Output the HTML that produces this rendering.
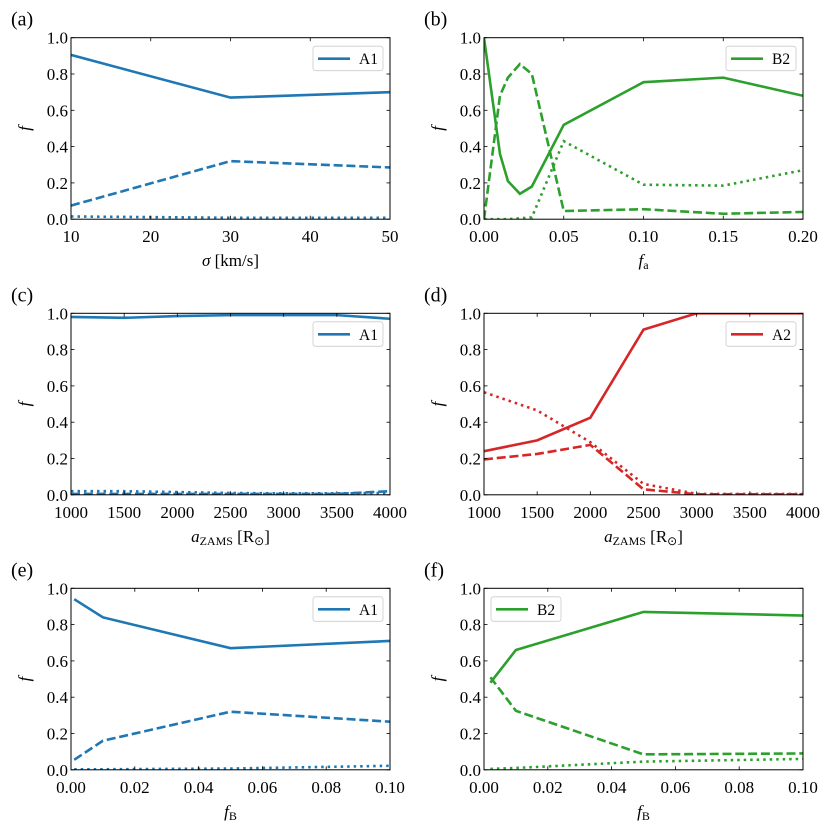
<!DOCTYPE html>
<html><head><meta charset="utf-8"><style>
body{margin:0;background:#fff}
svg text{font-family:"Liberation Serif",serif;fill:#000}
</style></head><body>
<svg id="fig" width="831" height="828" viewBox="0 0 831 828" xmlns="http://www.w3.org/2000/svg"></svg>
<script>
const blue='#1f77b4',green='#2ca02c',red='#d62728';
// panel a
const aX=[10,30,50];
const aSolid=[0.905,0.67,0.70];
const aDash=[0.075,0.32,0.285];
const aDot=[0.015,0.008,0.008];
const aTicks=[10,20,30,40,50];
// panel b
const bX=[0,0.01,0.015,0.0225,0.03,0.05,0.1,0.15,0.2];
const bSolid=[1.0,0.36,0.21,0.14,0.18,0.52,0.755,0.78,0.68];
const bDash=[0.0,0.68,0.78,0.855,0.80,0.045,0.055,0.03,0.04];
const bDot=[0.0,0.0,0.0,0.005,0.01,0.43,0.19,0.185,0.27];
const bTicks=[0,0.05,0.1,0.15,0.2];
const bTickLabels=['0.00','0.05','0.10','0.15','0.20'];
// panel c
const cX=[1000,1500,2000,2500,3000,3500,4000];
const cSolid=[0.98,0.975,0.985,0.99,0.99,0.99,0.97];
const cDash=[0.005,0.005,0.005,0.005,0.005,0.005,0.02];
const cDot=[0.02,0.02,0.015,0.01,0.008,0.008,0.01];
const cTicks=[1000,1500,2000,2500,3000,3500,4000];
// panel d
const dX=[1000,1500,2000,2500,3000,3500,4000];
const dSolid=[0.24,0.30,0.425,0.91,1.0,1.0,1.0];
const dDash=[0.195,0.225,0.275,0.03,0.003,0.003,0.003];
const dDot=[0.565,0.465,0.29,0.06,0.005,0.005,0.005];
// panel e
const eX=[0.001,0.01,0.05,0.1];
const eSolid=[0.94,0.84,0.67,0.71];
const eDash=[0.055,0.16,0.32,0.265];
const eDot=[0.003,0.003,0.007,0.022];
// panel f
const fX=[0.002,0.01,0.05,0.1];
const fSolid=[0.48,0.66,0.87,0.85];
const fDash=[0.51,0.325,0.085,0.09];
const fDot=[0.005,0.01,0.045,0.06];
const efTicks=[0,0.02,0.04,0.06,0.08,0.1];
const efTickLabels=['0.00','0.02','0.04','0.06','0.08','0.10'];
const yTicks=[0,0.2,0.4,0.6,0.8,1.0];
const yTickLabels=['0.0','0.2','0.4','0.6','0.8','1.0'];

const NS='http://www.w3.org/2000/svg';
const svg=document.getElementById('fig');
function mk(tag,attrs,parent){const e=document.createElementNS(NS,tag);for(const k in attrs)e.setAttribute(k,attrs[k]);(parent||svg).appendChild(e);return e;}

function panel(o){
  const g=mk('g',{});
  
  
  const L=o.x0,R=o.x1,T=o.y0,B=o.y0+181.5;
  const sx=v=>L+(v-o.xmin)/(o.xmax-o.xmin)*(R-L);
  const sy=v=>B-(v-0)/(1-0)*(B-T);
  const clip=mk('clipPath',{id:'clip'+o.id},g);
  mk('rect',{x:L,y:T,width:R-L,height:B-T},clip);
  const series=[[o.solid,'none','solid'],[o.dash,'9,3.8','dashed'],[o.dot,'2.5,4','dotted']];
  series.forEach(s=>{
    const pts=o.xs.map((x,i)=>sx(x).toFixed(2)+','+sy(s[0][i]).toFixed(2)).join(' ');
    const p=mk('polyline',{points:pts,fill:'none',stroke:o.color,'stroke-width':2.6,'stroke-dasharray':s[1],'clip-path':'url(#clip'+o.id+')'},g);
    
    
  });
  const frame=mk('rect',{x:L,y:T,width:R-L,height:B-T,fill:'none',stroke:'#000','stroke-width':1},g);
  
  
  o.xt.forEach((v,i)=>{
    const x=sx(v);
    mk('line',{x1:x,y1:B,x2:x,y2:B-3.5,stroke:'#000','stroke-width':0.8},g);
    mk('line',{x1:x,y1:T,x2:x,y2:T+3.5,stroke:'#000','stroke-width':0.8},g);
    const t=mk('text',{x:x,y:B+23,'text-anchor':'middle','font-size':17},g);
    t.textContent=o.xtl?o.xtl[i]:String(v);
    
    
  });
  yTicks.forEach((v,i)=>{
    const y=sy(v);
    mk('line',{x1:L,y1:y,x2:L+3.5,y2:y,stroke:'#000','stroke-width':0.8},g);
    mk('line',{x1:R,y1:y,x2:R-3.5,y2:y,stroke:'#000','stroke-width':0.8},g);
    const t=mk('text',{x:L-3,y:y+6,'text-anchor':'end','font-size':17},g);
    t.textContent=yTickLabels[i];
    
    
  });
  const yl=mk('text',{x:0,y:0,'font-size':17,'font-style':'italic','text-anchor':'middle',transform:`translate(${L-41},${(T+B)/2}) rotate(-90)`},g);
  yl.textContent='f';
  
  
  const xl=mk('text',{x:(L+R)/2,y:B+47,'text-anchor':'middle','font-size':17},g);
  xl.innerHTML=o.xlabel;
  
  
  const pl=mk('text',{x:L-60,y:T-12,'font-size':20},g);
  pl.textContent='('+o.id+')';
  
  
  const lx=o.legLeft?L+7:R-77, ly=T+8.5;
  const lg=mk('g',{},g);
  
  
  mk('rect',{x:lx,y:ly,width:70,height:24.5,rx:2.5,fill:'#fff','fill-opacity':0.8,stroke:'#ccc','stroke-width':0.8},lg);
  mk('line',{x1:lx+5,y1:ly+12.5,x2:lx+37,y2:ly+12.5,stroke:o.color,'stroke-width':2.6},lg);
  const lt=mk('text',{x:lx+46,y:ly+18,'font-size':15.5},lg);
  lt.textContent=o.leg;
  
  
}
const LX0=71,LX1=390,RX0=484,RX1=803;
const azams='<tspan font-style="italic">a</tspan><tspan font-size="12" dy="3">ZAMS</tspan><tspan dy="-3"> [R</tspan><tspan font-size="12" dy="3">⊙</tspan><tspan dy="-3">]</tspan>';
panel({id:'a',x0:LX0,x1:LX1,y0:37.7,xmin:10,xmax:50,xs:aX,solid:aSolid,dash:aDash,dot:aDot,xt:aTicks,color:blue,leg:'A1',xlabel:'<tspan font-style="italic">σ</tspan> [km/s]'});
panel({id:'b',x0:RX0,x1:RX1,y0:37.7,xmin:0,xmax:0.2,xs:bX,solid:bSolid,dash:bDash,dot:bDot,xt:bTicks,xtl:bTickLabels,color:green,leg:'B2',xlabel:'<tspan font-style="italic">f</tspan><tspan font-size="12" dy="3">a</tspan>'});
panel({id:'c',x0:LX0,x1:LX1,y0:313.3,xmin:1000,xmax:4000,xs:cX,solid:cSolid,dash:cDash,dot:cDot,xt:cTicks,color:blue,leg:'A1',xlabel:azams});
panel({id:'d',x0:RX0,x1:RX1,y0:313.3,xmin:1000,xmax:4000,xs:dX,solid:dSolid,dash:dDash,dot:dDot,xt:cTicks,color:red,leg:'A2',xlabel:azams});
panel({id:'e',x0:LX0,x1:LX1,y0:588.3,xmin:0,xmax:0.1,xs:eX,solid:eSolid,dash:eDash,dot:eDot,xt:efTicks,xtl:efTickLabels,color:blue,leg:'A1',xlabel:'<tspan font-style="italic">f</tspan><tspan font-size="12" dy="3">B</tspan>'});
panel({id:'f',x0:RX0,x1:RX1,y0:588.3,xmin:0,xmax:0.1,xs:fX,solid:fSolid,dash:fDash,dot:fDot,xt:efTicks,xtl:efTickLabels,color:green,leg:'B2',legLeft:true,xlabel:'<tspan font-style="italic">f</tspan><tspan font-size="12" dy="3">B</tspan>'});
</script>
</body></html>
